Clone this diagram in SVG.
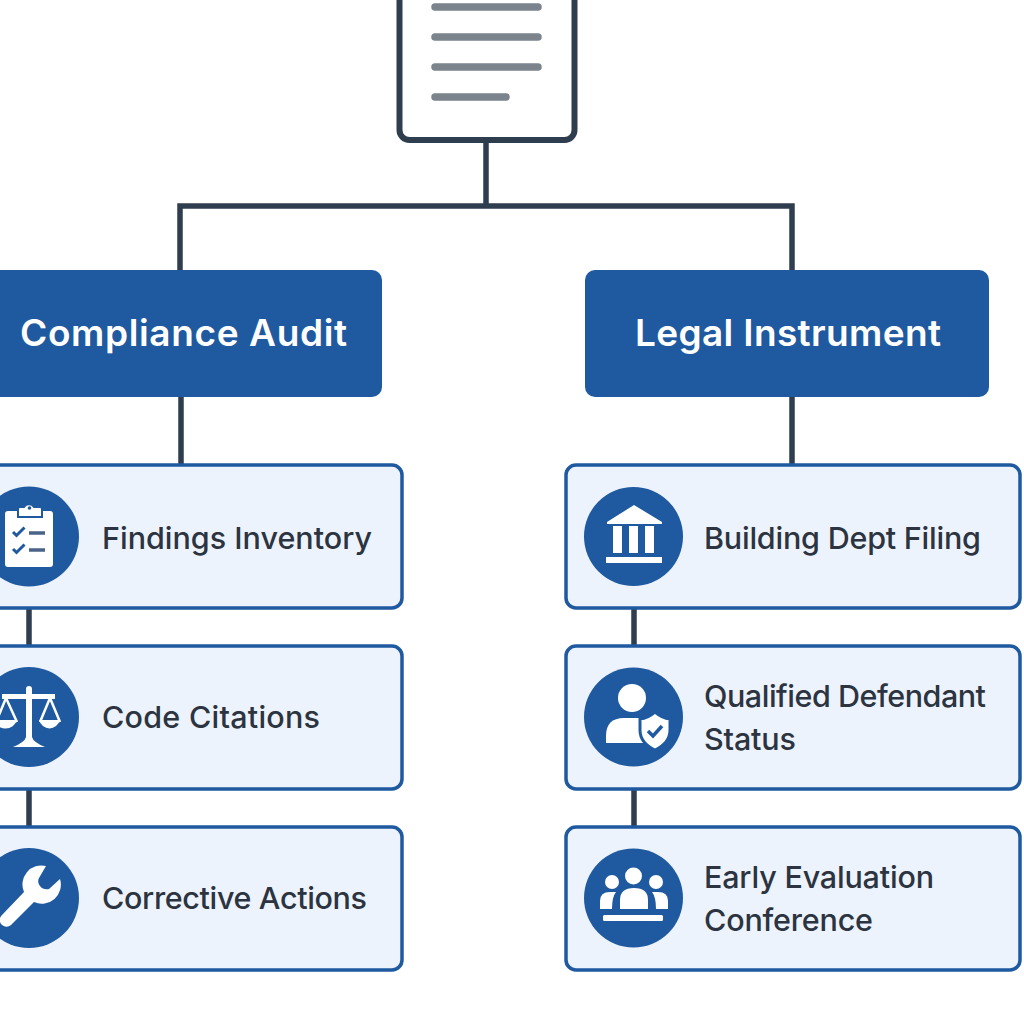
<svg xmlns="http://www.w3.org/2000/svg" width="1024" height="1024" viewBox="0 0 1024 1024">
<style>
.conn{fill:none;stroke:#2f3e4e;stroke-width:5.500}
.head{fill:#1f5aa0}
.card{fill:#edf3fc;stroke:#1f5aa0;stroke-width:3.500}
.disc{fill:#1f5aa0}
.ic{fill:#fff}
.icb{fill:#1f5aa0}
.ln{stroke:#7b838d;stroke-width:7.500;stroke-linecap:round}
.t{font-family:"Inter","Liberation Sans",sans-serif;font-weight:500;font-size:30.500px;fill:#2b3440}
.h{font-family:"Inter","Liberation Sans",sans-serif;font-weight:600;font-size:37px;fill:#fff}
</style>
<rect width="1024" height="1024" fill="#fff"/>
<g id="connectors">
<path class="conn" d="M486 142V206M180 270V206H792V270"/>
<path class="conn" d="M181 396V465M792 396V465"/>
<path class="conn" d="M29 607V646M29 788V827M634 607V646M634 788V827"/>
</g>
<g id="document">
<rect x="399.500" y="-20" width="175" height="160" rx="10" fill="#fff" stroke="#2f3e4e" stroke-width="6"/>
<path class="ln" d="M435 7H538M435 37H538M435 67H538M435 97H506"/>
</g>
<g id="compliance-audit">
<rect class="head" x="-20" y="270" width="402" height="127" rx="10"/>
<text class="h" x="20" y="346" textLength="327">Compliance Audit</text>
</g>
<g id="legal-instrument">
<rect class="head" x="585" y="270" width="404" height="127" rx="10"/>
<text class="h" x="635" y="346" textLength="306">Legal Instrument</text>
</g>
<g id="findings-inventory">
<rect class="card" x="-20" y="465" width="422" height="143" rx="10"/>
<circle class="disc" cx="29" cy="536.500" r="50"/>
<rect class="ic" x="5" y="511" width="48" height="56" rx="3"/>
<path class="ic" stroke="#1f5aa0" stroke-width="2" d="M18 517v-8a2 2 0 0 1 2-2h4a6 6 0 0 1 10 0h6a2 2 0 0 1 2 2v8z"/>
<circle class="icb" cx="29.500" cy="508" r="1.800"/>
<path d="M13 532l3.500 3.500 8-8M13 549l3.500 3.500 8-8" fill="none" stroke="#1f5aa0" stroke-width="3"/>
<path d="M29 533H45M29 550H45" stroke="#4a6488" stroke-width="3.500"/>
<text class="t" x="102" y="549" textLength="270">Findings Inventory</text>
</g>
<g id="code-citations">
<rect class="card" x="-20" y="646" width="422" height="143" rx="10"/>
<circle class="disc" cx="29" cy="717" r="50"/>
<path class="ic" d="M26 689a3 3 0 0 1 6 0v5l23 0v5H32v38q1 5 13 10H13q12-5 13-10V699H2v-5h24z"/>
<path d="M6 698L-4 722M6 698L17 722M50 698L40 722M50 698L60 722" stroke="#fff" stroke-width="2.500" fill="none"/>
<path class="ic" d="M-6 720H17a12 12 0 0 1-23 0zM39 720H60a11 12 0 0 1-21 0z"/>
<text class="t" x="102" y="728" textLength="218">Code Citations</text>
</g>
<g id="corrective-actions">
<rect class="card" x="-20" y="827" width="422" height="143" rx="10"/>
<circle class="disc" cx="29" cy="898" r="50"/>
<path class="ic" d="M46 866a19 19 0 0 0-22 26L2 915a6 6 0 0 0 9 10L34 902a19 19 0 0 0 26-23L49 889q-6 1-9-3-3-4-1-8z"/>
<text class="t" x="102" y="909" textLength="265">Corrective Actions</text>
</g>
<g id="building-dept-filing">
<rect class="card" x="566" y="465" width="454" height="143" rx="10"/>
<circle class="disc" cx="633.500" cy="536.500" r="49.500"/>
<path class="ic" d="M634 505L662 522V524H607V522z"/>
<path class="ic" d="M613 526h9v27h-9zM629 526h9v27h-9zM645 526h9v27h-9zM606 557h56v6H606z"/>
<text class="t" x="704" y="549" textLength="277">Building Dept Filing</text>
</g>
<g id="qualified-defendant-status">
<rect class="card" x="566" y="646" width="454" height="143" rx="10"/>
<circle class="disc" cx="633.500" cy="717" r="49.500"/>
<circle class="ic" cx="632" cy="698" r="14"/>
<path class="ic" d="M606 743v-7q0-18 18-18h20q14 0 18 8v17z"/>
<path class="ic" stroke="#1f5aa0" stroke-width="3" d="M655 712q7 6 15 7v11q0 13-15 20q-15-7-15-20v-11q8-1 15-7z"/>
<path d="M648 731l5 5 9-10" fill="none" stroke="#1f5aa0" stroke-width="3.500"/>
<text class="t" x="704" y="707" textLength="282">Qualified Defendant</text>
<text class="t" x="704" y="750" textLength="92">Status</text>
</g>
<g id="early-evaluation-conference">
<rect class="card" x="566" y="827" width="454" height="143" rx="10"/>
<circle class="disc" cx="633.500" cy="898" r="49.500"/>
<circle class="ic" cx="612" cy="882" r="7"/>
<circle class="ic" cx="656" cy="882" r="7"/>
<circle class="ic" cx="633.500" cy="876" r="8.500"/>
<path class="ic" d="M600 909v-8q0-9 10-9h6q-4 5-4 17zM668 909v-8q0-9-10-9h-6q4 5 4 17z"/>
<path class="ic" d="M620 909v-9q0-12 14-12t14 12v9z"/>
<rect class="ic" x="603" y="915" width="60" height="6" rx="1.500"/>
<text class="t" x="704" y="888" textLength="230">Early Evaluation</text>
<text class="t" x="704" y="931" textLength="169">Conference</text>
</g>
</svg>
